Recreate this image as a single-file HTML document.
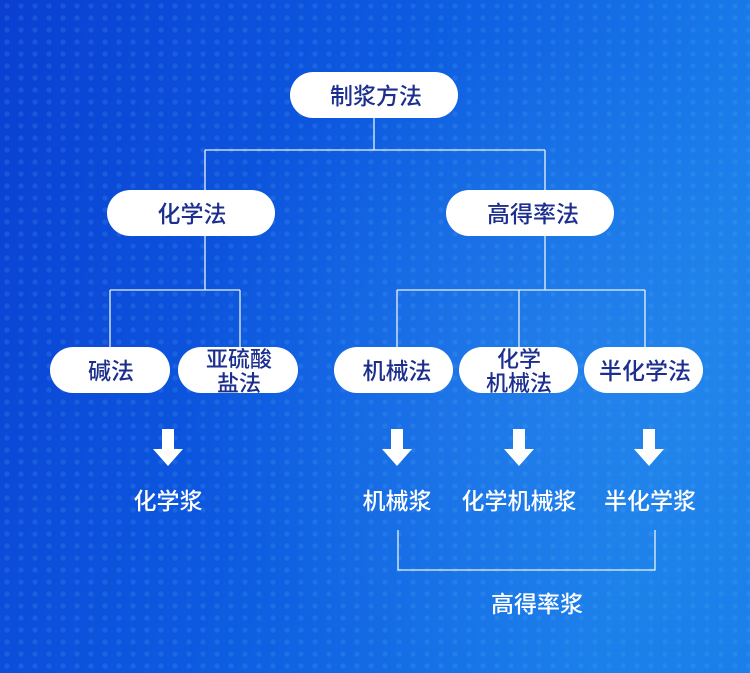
<!DOCTYPE html>
<html><head><meta charset="utf-8"><style>
html,body{margin:0;padding:0;width:750px;height:673px;overflow:hidden}
svg{display:block}
text{font-family:"Liberation Sans","Noto Sans CJK SC",sans-serif;font-weight:500}
</style></head><body>
<svg width="750" height="673" viewBox="0 0 750 673" xmlns="http://www.w3.org/2000/svg">
<defs>
<linearGradient id="bg" x1="0" y1="0" x2="1" y2="0.3">
<stop offset="0" stop-color="#0a3fd2"/>
<stop offset="0.5" stop-color="#0d5ae0"/>
<stop offset="1" stop-color="#1a7fea"/>
</linearGradient>
<radialGradient id="glow" cx="0.75" cy="0.55" r="0.5">
<stop offset="0" stop-color="#3a95f0" stop-opacity="0.35"/>
<stop offset="1" stop-color="#3a95f0" stop-opacity="0"/>
</radialGradient>
<pattern id="dots" width="14" height="12" patternUnits="userSpaceOnUse">
<circle cx="7" cy="6" r="2.6" fill="#5aaaf5" fill-opacity="0.18"/>
</pattern>
</defs>
<rect width="750" height="673" fill="url(#bg)"/>
<rect width="750" height="673" fill="url(#glow)"/>
<rect width="750" height="673" fill="url(#dots)"/>
<g stroke="#e6f2ff" stroke-width="1.3" fill="none">
<path d="M374 118V150M205 150H545M205 150V190M545 150V190"/>
<path d="M205 236V290M110 290H240M110 290V347M240 290V347"/>
<path d="M545 236V290M397 290H645M397 290V347M519 290V347M645 290V347"/>
<path d="M398 530V570H655V530"/>
</g>
<g fill="#fff">
<rect x="290" y="72" width="168" height="46" rx="23"/>
<rect x="107" y="190" width="168" height="46" rx="23"/>
<rect x="446" y="190" width="168" height="46" rx="23"/>
<rect x="50" y="347" width="120" height="46" rx="23"/>
<rect x="178" y="347" width="120" height="46" rx="23"/>
<rect x="334" y="347" width="119" height="46" rx="23"/>
<rect x="459" y="347" width="119" height="46" rx="23"/>
<rect x="584" y="347" width="119" height="46" rx="23"/>
</g>
<g fill="#fff">
<path d="M162 429h12v20h9l-15 17-15-17h9z"/>
<path d="M391 429h12v20h9l-15 17-15-17h9z"/>
<path d="M513 429h12v20h9l-15 17-15-17h9z"/>
<path d="M643 429h12v20h9l-15 17-15-17h9z"/>
</g>
<g fill="#1c2f8f" font-size="23" text-anchor="middle">
<text x="376" y="104">制浆方法</text>
<text x="192" y="222">化学法</text>
<text x="533" y="222">高得率法</text>
<text x="111" y="379">碱法</text>
<text x="239" y="367" font-size="22">亚硫酸</text>
<text x="239" y="391" font-size="22">盐法</text>
<text x="397" y="379">机械法</text>
<text x="519" y="367" font-size="22">化学</text>
<text x="519" y="391" font-size="22">机械法</text>
<text x="645" y="379">半化学法</text>
</g>
<g fill="#fff" font-size="23" text-anchor="middle">
<text x="168" y="509">化学浆</text>
<text x="397" y="509">机械浆</text>
<text x="519" y="509">化学机械浆</text>
<text x="650" y="509">半化学浆</text>
<text x="537" y="612">高得率浆</text>
</g>
</svg>
</body></html>
